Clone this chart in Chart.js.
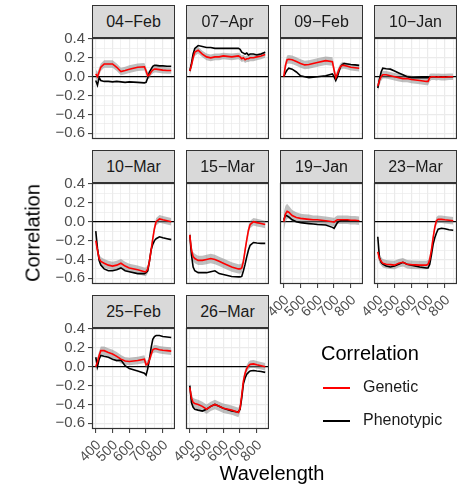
<!DOCTYPE html>
<html>
<head>
<meta charset="utf-8">
<script src="https://cdn.jsdelivr.net/npm/chart.js@4"></script>
<style>
  body { margin: 0; background: #fff; }
  #wrap { position: relative; width: 462px; height: 487px; overflow: hidden; font-family: "Liberation Sans", Arial, sans-serif; }
  canvas { position: absolute; }
  .strip { position: absolute; width: 83px; height: 33px; box-sizing: border-box; border: 1px solid #333;
           background: #d9d9d9; color: #1a1a1a; font-size: 16px; display: flex; align-items: center;
           justify-content: center; z-index: 2; }
  .txt { position: absolute; white-space: nowrap; color: #000; }
  .key { position: absolute; width: 27px; height: 2px; }
</style>
</head>
<body>
<div id="wrap"></div>
<script>
// wavelengths (nm) where the curves were read
const wavelength = [400,410,420,430,450,475,500,525,550,575,600,650,690,700,710,720,730,740,750,760,780,800,825,850];

const dates = ['04−Feb','07−Apr','09−Feb','10−Jan','10−Mar','15−Mar','19−Jan','23−Mar','25−Feb','26−Mar'];

// genetic correlation, one row per date
const genetic = [
  [0.03,0.0,0.05,0.10,0.135,0.135,0.135,0.10,0.055,0.065,0.08,0.10,0.105,0.06,0.01,0.02,0.05,0.07,0.08,0.08,0.075,0.07,0.065,0.065],
  [0.06,0.12,0.2,0.26,0.28,0.24,0.21,0.2,0.21,0.21,0.22,0.21,0.22,0.21,0.19,0.2,0.18,0.19,0.19,0.2,0.2,0.21,0.22,0.235],
  [0.0,0.12,0.18,0.185,0.18,0.16,0.14,0.125,0.13,0.14,0.15,0.17,0.16,0.07,-0.01,0.03,0.08,0.11,0.12,0.12,0.11,0.1,0.095,0.09],
  [-0.1,-0.04,0.0,0.02,0.02,0.01,0.0,-0.01,-0.02,-0.02,-0.03,-0.04,-0.05,-0.05,-0.01,0.0,0.0,0.0,-0.005,0.0,-0.005,-0.005,0.0,0.0],
  [-0.2,-0.3,-0.39,-0.42,-0.44,-0.46,-0.47,-0.46,-0.44,-0.47,-0.49,-0.51,-0.53,-0.53,-0.5,-0.42,-0.3,-0.18,-0.07,0.0,0.03,0.02,0.01,0.0],
  [-0.14,-0.3,-0.37,-0.39,-0.41,-0.41,-0.4,-0.39,-0.4,-0.42,-0.44,-0.48,-0.5,-0.5,-0.49,-0.42,-0.3,-0.19,-0.09,-0.03,0.0,-0.01,-0.02,-0.03],
  [0.0,0.08,0.11,0.1,0.065,0.045,0.035,0.03,0.025,0.02,0.02,0.01,0.0,-0.005,0.01,0.02,0.02,0.02,0.02,0.02,0.02,0.015,0.015,0.01],
  [-0.32,-0.39,-0.42,-0.44,-0.45,-0.455,-0.46,-0.44,-0.43,-0.45,-0.455,-0.46,-0.46,-0.45,-0.4,-0.3,-0.17,-0.06,0.01,0.025,0.025,0.02,0.015,0.01],
  [0.0,0.05,0.12,0.17,0.17,0.15,0.135,0.11,0.08,0.06,0.055,0.065,0.08,0.02,0.03,0.07,0.13,0.18,0.19,0.19,0.18,0.175,0.17,0.165],
  [-0.22,-0.33,-0.38,-0.39,-0.4,-0.42,-0.45,-0.42,-0.4,-0.42,-0.44,-0.46,-0.485,-0.44,-0.3,-0.15,-0.07,-0.02,0.01,0.025,0.03,0.02,0.01,0.0]
];

// phenotypic correlation, one row per date
const phenotypic = [
  [-0.04,-0.09,-0.01,-0.04,-0.05,-0.05,-0.055,-0.05,-0.055,-0.06,-0.055,-0.06,-0.065,-0.06,-0.01,0.05,0.08,0.11,0.12,0.12,0.115,0.115,0.11,0.11],
  [0.06,0.14,0.24,0.3,0.33,0.32,0.31,0.31,0.3,0.3,0.3,0.3,0.3,0.29,0.26,0.25,0.24,0.25,0.23,0.24,0.24,0.23,0.24,0.26],
  [0.0,0.04,0.07,0.09,0.08,0.05,0.01,0.0,-0.01,-0.005,0.0,0.01,0.03,0.0,-0.04,0.0,0.06,0.11,0.13,0.14,0.135,0.13,0.125,0.12],
  [-0.12,-0.03,0.05,0.09,0.085,0.08,0.06,0.04,0.02,0.0,-0.01,-0.01,-0.01,-0.01,-0.005,0.0,0.0,0.0,0.0,0.0,0.0,0.0,0.0,0.0],
  [-0.1,-0.28,-0.41,-0.46,-0.5,-0.52,-0.52,-0.51,-0.49,-0.52,-0.53,-0.55,-0.55,-0.54,-0.52,-0.42,-0.3,-0.24,-0.2,-0.18,-0.16,-0.17,-0.18,-0.19],
  [-0.14,-0.35,-0.48,-0.52,-0.54,-0.54,-0.54,-0.53,-0.52,-0.55,-0.56,-0.58,-0.585,-0.585,-0.58,-0.52,-0.45,-0.37,-0.3,-0.25,-0.22,-0.225,-0.23,-0.23],
  [0.02,0.07,0.06,0.05,0.02,0.0,-0.01,-0.015,-0.02,-0.025,-0.03,-0.035,-0.06,-0.07,-0.04,-0.01,0.005,0.01,0.01,0.01,0.01,0.01,0.01,0.005],
  [-0.16,-0.38,-0.43,-0.45,-0.47,-0.48,-0.47,-0.45,-0.43,-0.45,-0.46,-0.48,-0.49,-0.49,-0.45,-0.35,-0.24,-0.17,-0.12,-0.08,-0.07,-0.075,-0.085,-0.09],
  [0.1,0.0,0.08,0.12,0.11,0.1,0.08,0.065,0.07,0.01,-0.02,-0.045,-0.07,-0.09,-0.02,0.08,0.2,0.29,0.32,0.33,0.33,0.32,0.315,0.31],
  [-0.2,-0.38,-0.43,-0.45,-0.46,-0.47,-0.45,-0.42,-0.4,-0.42,-0.44,-0.47,-0.48,-0.45,-0.33,-0.18,-0.12,-0.08,-0.06,-0.045,-0.04,-0.045,-0.05,-0.06]
];

// half-width of the grey band around the genetic curve
const bandHalf = [
  [0.05,0.05,0.045,0.04,0.04,0.04,0.04,0.04,0.04,0.04,0.04,0.04,0.04,0.04,0.04,0.04,0.035,0.035,0.035,0.035,0.035,0.035,0.035,0.035],
  [0.05,0.045,0.04,0.04,0.035,0.035,0.035,0.035,0.035,0.035,0.035,0.035,0.035,0.035,0.035,0.035,0.035,0.035,0.035,0.035,0.035,0.035,0.035,0.035],
  [0.05,0.05,0.045,0.045,0.045,0.045,0.045,0.045,0.045,0.045,0.045,0.045,0.045,0.045,0.04,0.04,0.035,0.035,0.035,0.035,0.035,0.035,0.035,0.035],
  [0.06,0.05,0.045,0.04,0.04,0.04,0.04,0.04,0.04,0.04,0.04,0.04,0.04,0.04,0.04,0.035,0.035,0.035,0.035,0.035,0.035,0.035,0.035,0.035],
  [0.06,0.05,0.045,0.045,0.045,0.045,0.045,0.045,0.045,0.045,0.045,0.045,0.045,0.045,0.045,0.045,0.045,0.045,0.045,0.04,0.04,0.04,0.04,0.04],
  [0.06,0.05,0.05,0.05,0.05,0.05,0.05,0.05,0.05,0.05,0.05,0.05,0.05,0.05,0.05,0.045,0.045,0.045,0.045,0.04,0.04,0.04,0.04,0.04],
  [0.1,0.09,0.08,0.07,0.06,0.055,0.05,0.05,0.05,0.045,0.045,0.045,0.045,0.045,0.045,0.045,0.045,0.045,0.045,0.045,0.045,0.045,0.045,0.045],
  [0.06,0.05,0.045,0.045,0.045,0.045,0.045,0.045,0.045,0.045,0.045,0.045,0.045,0.045,0.045,0.045,0.045,0.04,0.04,0.04,0.04,0.04,0.04,0.04],
  [0.05,0.05,0.045,0.045,0.045,0.045,0.045,0.045,0.045,0.04,0.04,0.04,0.04,0.04,0.04,0.04,0.04,0.04,0.04,0.04,0.04,0.04,0.04,0.04],
  [0.06,0.05,0.05,0.05,0.05,0.05,0.05,0.05,0.05,0.05,0.05,0.05,0.05,0.045,0.045,0.045,0.045,0.04,0.04,0.04,0.04,0.04,0.04,0.04]
];

const xGrid = [400,450,500,550,600,650,700,750,800,850];
const yGrid = [-0.6,-0.5,-0.4,-0.3,-0.2,-0.1,0,0.1,0.2,0.3,0.4];

const FONT = '"Liberation Sans", Arial, sans-serif';
const colLeft = [92, 186, 280, 374];
const rowTop = [38, 183, 328];
const PW = 83, PH = 101;

const wrap = document.getElementById('wrap');

const panelBorder = {
  id: 'panelBorder',
  afterDraw(chart) {
    const a = chart.chartArea, c = chart.ctx;
    c.save();
    c.strokeStyle = '#333';
    c.lineWidth = 1.2;
    c.strokeRect(a.left + 0.5, a.top + 0.5, a.right - a.left - 1, a.bottom - a.top - 1);
    c.restore();
  }
};

const isMajorY = v => Math.abs(Math.round(v * 10)) % 2 === 0;
const isMajorX = v => v % 100 === 0;

function pts(vals) {
  return wavelength.map((w, j) => ({ x: w, y: vals[j] }));
}

dates.forEach((d, i) => {
  const col = i % 4, row = Math.floor(i / 4);
  const left = col === 0;
  const bottom = row === 2 || (row === 1 && col >= 2);
  const axisW = left ? 52 : 0;
  const axisH = bottom ? 44 : 0;
  const padTop = 10, padBottom = bottom ? 0 : 10;
  const padLeft = (bottom && !left) ? 16 : 0;

  const cv = document.createElement('canvas');
  cv.width = PW + axisW + padLeft;
  cv.height = PH + padTop + padBottom + axisH;
  cv.style.left = (colLeft[col] - axisW - padLeft) + 'px';
  cv.style.top = (rowTop[row] - padTop) + 'px';
  wrap.appendChild(cv);

  const st = document.createElement('div');
  st.className = 'strip';
  st.style.left = colLeft[col] + 'px';
  st.style.top = (rowTop[row] - 33) + 'px';
  st.textContent = d;
  wrap.appendChild(st);

  const g = genetic[i], p = phenotypic[i], b = bandHalf[i];
  const lo = g.map((v, j) => v - b[j]);
  const hi = g.map((v, j) => v + b[j]);

  new Chart(cv, {
    type: 'line',
    data: {
      datasets: [
        { data: pts(lo), borderWidth: 0, pointRadius: 0, fill: false, order: 4 },
        { data: pts(hi), borderWidth: 0, pointRadius: 0, fill: '-1', backgroundColor: 'rgba(128,128,128,0.5)', order: 3 },
        { label: 'Phenotypic', data: pts(p), borderColor: '#000', borderWidth: 1.6, pointRadius: 0, fill: false, order: 2 },
        { label: 'Genetic', data: pts(g), borderColor: '#ff0000', borderWidth: 1.6, pointRadius: 0, fill: false, order: 1 }
      ]
    },
    options: {
      responsive: false,
      animation: false,
      devicePixelRatio: 1,
      layout: { padding: { top: padTop, bottom: padBottom, left: padLeft, right: 0 } },
      plugins: { legend: { display: false }, tooltip: { enabled: false } },
      scales: {
        x: {
          type: 'linear', min: 377.5, max: 872.5,
          afterBuildTicks: s => { s.ticks = xGrid.map(v => ({ value: v })); },
          afterFit: s => { s.height = axisH; s.paddingLeft = 0; s.paddingRight = 0; },
          border: { display: false },
          grid: {
            color: '#ebebeb',
            lineWidth: c => isMajorX(c.tick.value) ? 1.2 : 0.7,
            drawTicks: bottom, tickLength: 4, tickWidth: 1,
            tickColor: c => isMajorX(c.tick.value) ? '#333' : 'rgba(0,0,0,0)'
          },
          ticks: {
            display: bottom, autoSkip: false, minRotation: 45, maxRotation: 45, padding: 4, labelOffset: 3,
            color: '#4d4d4d', font: { family: FONT, size: 14 },
            callback: v => isMajorX(v) ? String(v) : ''
          }
        },
        y: {
          min: -0.66, max: 0.41,
          afterBuildTicks: s => { s.ticks = yGrid.map(v => ({ value: v })); },
          afterFit: s => { s.width = axisW; s.paddingTop = 0; s.paddingBottom = 0; },
          border: { display: false },
          grid: {
            color: c => c.tick.value === 0 ? '#000' : '#ebebeb',
            lineWidth: c => c.tick.value === 0 ? 1.2 : (isMajorY(c.tick.value) ? 1.2 : 0.7),
            drawTicks: left, tickLength: 4, tickWidth: 1,
            tickColor: c => isMajorY(c.tick.value) ? '#333' : 'rgba(0,0,0,0)'
          },
          ticks: {
            display: left, autoSkip: false, padding: 3, color: '#4d4d4d', font: { family: FONT, size: 15 },
            callback: v => isMajorY(v) ? v.toFixed(1).replace('-', '−') : ''
          }
        }
      }
    },
    plugins: [panelBorder]
  });
});

function addText(txt, css) {
  const el = document.createElement('div');
  el.className = 'txt';
  el.style.cssText += css;
  el.textContent = txt;
  wrap.appendChild(el);
}

addText('Correlation', 'left:33px;top:233px;font-size:20px;transform:translate(-50%,-50%) rotate(-90deg);');
addText('Wavelength', 'left:272px;top:473px;font-size:20px;transform:translate(-50%,-50%);');

// legend
addText('Correlation', 'left:321px;top:342px;font-size:20px;');
const legendItems = [['Genetic', '#ff0000', 388], ['Phenotypic', '#000', 421]];
legendItems.forEach(([name, color, y]) => {
  const k = document.createElement('div');
  k.className = 'key';
  k.style.cssText += `left:323px;top:${y - 1}px;background:${color};`;
  wrap.appendChild(k);
  addText(name, `left:363px;top:${y - 10}px;font-size:16px;color:#1a1a1a;`);
});
</script>
</body>
</html>
